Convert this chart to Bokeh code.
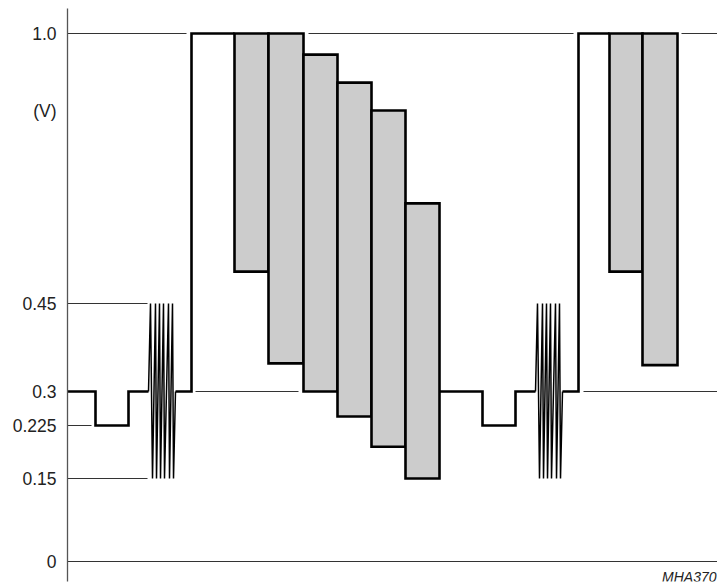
import numpy as np
from bokeh.plotting import figure
from bokeh.models import Range1d, FixedTicker, Label
from bokeh.embed import file_html
from bokeh.resources import INLINE

# ---- y axis: voltage ticks; the drawing is schematic (not to scale), so each
# tick voltage is given its drawn position and values are interpolated between them
tick_volts = [0.0, 0.15, 0.225, 0.3, 0.45, 1.0]
tick_labels = ["0", "0.15", "0.225", "0.3", "0.45", "1.0"]
tick_draw = [0, 83, 136, 170, 258, 528]
unit_label = "(V)"
unit_draw = 451


def Y(v):
    return np.interp(np.asarray(v, dtype=float), tick_volts, tick_draw)


# ---- waveform, first line period (time in arbitrary units, level in V)
wave1_t = [0, 28, 28, 61, 61, 81,
           83, 85, 88, 89, 92, 93, 96, 97, 101, 102, 105, 106,
           108, 124, 124, 167]
wave1_v = [0.3, 0.3, 0.225, 0.225, 0.3, 0.3,
           0.45, 0.15, 0.45, 0.15, 0.45, 0.15, 0.45, 0.15, 0.45, 0.15, 0.45, 0.15,
           0.3, 0.3, 1.0, 1.0]

# ---- waveform, second line period
wave2_t = [372, 415, 415, 448, 448, 468,
           470, 472, 475, 476, 479, 480, 483, 484, 488, 489, 492, 493,
           495, 511, 511, 542]
wave2_v = [0.3, 0.3, 0.225, 0.225, 0.3, 0.3,
           0.45, 0.15, 0.45, 0.15, 0.45, 0.15, 0.45, 0.15, 0.45, 0.15, 0.45, 0.15,
           0.3, 0.3, 1.0, 1.0]

# ---- modulated (grey) bars
bar_start = [167, 201, 236, 270, 304, 338, 542, 575]
bar_end = [201, 236, 270, 304, 338, 372, 575, 610]
bar_top = [1.0, 1.0, 0.957, 0.90, 0.843, 0.654, 1.0, 1.0]
bar_bottom = [0.515, 0.348, 0.30, 0.245, 0.195, 0.15, 0.515, 0.345]

# ---- thin reference level lines
ref_level = [1.0, 1.0, 1.0, 0.45, 0.3, 0.3, 0.225, 0.15, 0.0]
ref_start = [0, 241, 614, 0, 128, 516, 0, 0, 0]
ref_end = [119, 506, 650, 80, 231, 650, 24, 80, 650]

FONT = "Liberation Sans"

p = figure(width=717, height=587,
           x_range=Range1d(0, 650), y_range=Range1d(-20, 553),
           output_backend="svg", toolbar_location=None,
           x_axis_location=None,
           min_border_left=67, min_border_right=0,
           min_border_top=8, min_border_bottom=6)
p.outline_line_color = None
p.grid.visible = False
p.background_fill_color = "white"
p.border_fill_color = "white"

# reference lines
p.segment(x0=ref_start, y0=Y(ref_level), x1=ref_end, y1=Y(ref_level),
          line_color="#333333", line_width=1)

# grey bars
p.quad(left=bar_start, right=bar_end, top=Y(bar_top), bottom=Y(bar_bottom),
       fill_color="#cccccc", line_color="black", line_width=2.6,
       line_join="miter")

# waveform: steps drawn thick, the colour burst drawn with thinner strokes
B0, B1 = 5, 19   # index range of the burst within each period
for t, v in ((wave1_t, wave1_v), (wave2_t, wave2_v)):
    y = Y(v)
    p.line(x=t[:B0 + 1], y=y[:B0 + 1], line_color="black", line_width=2.6,
           line_join="miter")
    p.line(x=t[B0:B1], y=y[B0:B1], line_color="black", line_width=1.5,
           line_join="miter")
    p.line(x=t[B1 - 1:], y=y[B1 - 1:], line_color="black", line_width=2.6,
           line_join="miter")

# y axis
ya = p.yaxis[0]
ya.ticker = FixedTicker(ticks=tick_draw + [unit_draw])
overrides = {k: s for k, s in zip(tick_draw, tick_labels)}
overrides[unit_draw] = unit_label
ya.major_label_overrides = overrides
ya.major_label_text_font = FONT
ya.major_label_text_font_size = "17.5px"
ya.major_label_text_color = "#222222"
ya.major_label_standoff = 5
ya.major_tick_line_color = None
ya.minor_tick_line_color = None
ya.axis_line_color = "#555555"
ya.axis_line_width = 1.3

p.add_layout(Label(x=649, y=-15, text="MHA370", text_align="right",
                   text_baseline="middle", text_font=FONT,
                   text_font_style="italic", text_font_size="14px",
                   text_color="#222222"))

open("out.html", "w").write(file_html(p, INLINE))
